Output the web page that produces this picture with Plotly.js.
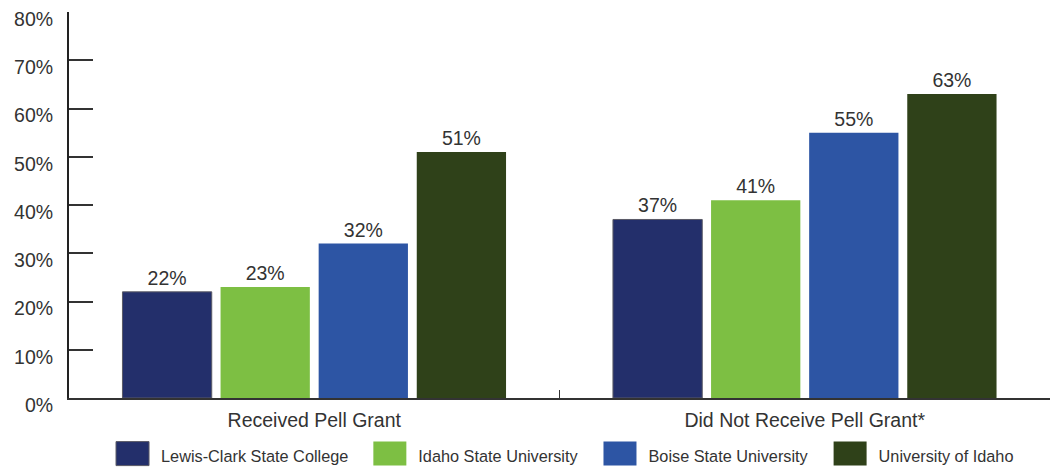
<!DOCTYPE html>
<html>
<head>
<meta charset="utf-8">
<script src="https://cdn.plot.ly/plotly-3.0.1.min.js"></script>
<style>
  html, body { margin: 0; padding: 0; background: #fff; }
  #chart { width: 1061px; height: 467px; }
</style>
</head>
<body>
<div id="chart"></div>
<script>
const categories = ["Received Pell Grant", "Did Not Receive Pell Grant*"];
const seriesNames = ["Lewis-Clark State College", "Idaho State University", "Boise State University", "University of Idaho"];
const lewisClark = [22, 37];
const idahoState = [23, 41];
const boiseState = [32, 55];
const uIdaho = [51, 63];
const yTickValues = [0, 10, 20, 30, 40, 50, 60, 70, 80];

const seriesValues = [lewisClark, idahoState, boiseState, uIdaho];
const colors = ["#232F6B", "#7DBF43", "#2D55A4", "#2F4119"];
const outlines = ["#5a5a66", "#7DBF43", "#2D55A4", "#2F4119"];

const traces = seriesNames.map((name, i) => ({
  type: "bar",
  name: name,
  x: categories,
  y: seriesValues[i],
  marker: { color: colors[i], line: { color: outlines[i], width: i === 0 ? 1 : 0 } },
  texttemplate: "%{y}%",
  textposition: "outside",
  textfont: { family: "Liberation Sans, Arial, sans-serif", size: 19.5, color: "#333" },
  cliponaxis: false,
  hoverinfo: "x+y+name"
}));

const layout = {
  width: 1061,
  height: 467,
  margin: { l: 69, r: 11, t: 12, b: 69, autoexpand: false },
  paper_bgcolor: "#fff",
  plot_bgcolor: "#fff",
  font: { family: "Liberation Sans, Arial, sans-serif", color: "#333" },
  barmode: "group",
  bargap: 0.2,
  bargroupgap: 0.09,
  showlegend: true,
  legend: {
    orientation: "h",
    xref: "container",
    yref: "container",
    x: 0.0905,
    xanchor: "left",
    y: 0.061,
    yanchor: "top",
    font: { size: 16.3, color: "#333" },
    itemwidth: 55,
    traceorder: "normal"
  },
  xaxis: {
    type: "category",
    tickson: "boundaries",
    ticks: "inside",
    ticklen: 8,
    tickwidth: 1.5,
    tickcolor: "#333",
    showline: true,
    linecolor: "#333",
    linewidth: 2,
    showgrid: false,
    zeroline: false,
    tickfont: { size: 19.5, color: "#333" },
    ticklabelstandoff: 4
  },
  yaxis: {
    range: [0, 80],
    tickvals: yTickValues,
    ticktext: yTickValues.map(v => v + "%"),
    ticks: "inside",
    ticklen: 24,
    tickwidth: 2,
    tickcolor: "#333",
    showline: true,
    linecolor: "#222",
    linewidth: 2,
    showgrid: false,
    zeroline: false,
    tickfont: { size: 19.5, color: "#333" },
    ticklabelstandoff: 10,
    ticklabelshift: 7
  }
};

Plotly.newPlot("chart", traces, layout, { displayModeBar: false, staticPlot: true }).then(gd => {
  // Enlarge the legend swatches into wide blocks that sit just left of each label
  document.querySelectorAll("#chart .legend .traces").forEach(g => {
    const txt = g.querySelector("text.legendtext");
    const path = g.querySelector(".legendpoints path");
    if (!txt || !path) return;
    path.setAttribute("d", "M0,-14H33V10H0Z");
    const pr = path.getBoundingClientRect();
    const tr = txt.getBoundingClientRect();
    const originX = pr.left;
    const left = tr.left - 12 - 33 - originX;
    path.setAttribute("d", "M" + left + ",-14H" + (left + 33) + "V10H" + left + "Z");
  });
});
</script>
</body>
</html>
